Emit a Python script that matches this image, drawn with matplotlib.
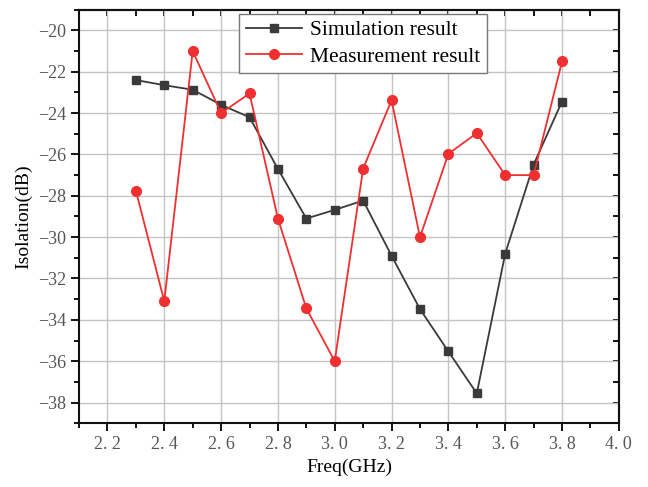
import matplotlib
matplotlib.use("Agg")
import matplotlib.pyplot as plt
from matplotlib.ticker import MultipleLocator, FuncFormatter

freq = [2.3, 2.4, 2.5, 2.6, 2.7, 2.8, 2.9, 3.0, 3.1, 3.2, 3.3, 3.4, 3.5, 3.6, 3.7, 3.8]
simulation = [-22.4, -22.65, -22.87, -23.6, -24.2, -26.7, -29.1, -28.68, -28.23,
              -30.9, -33.48, -35.53, -37.56, -30.8, -26.49, -23.44]
measurement = [-27.75, -33.1, -21.0, -24.0, -23.05, -29.1, -33.45, -36.0, -26.68,
               -23.38, -30.0, -25.97, -24.97, -27.0, -27.0, -21.5]

plt.rcParams['font.family'] = ['Liberation Serif', 'DejaVu Serif']

fig = plt.figure(figsize=(6.48, 4.87), dpi=100)
ax = fig.add_axes([0.122, 0.131, 0.833, 0.849])

ax.plot(freq, simulation, color='#3a3a3a', lw=1.3, marker='s', markersize=6,
        label='Simulation result', zorder=3)
ax.plot(freq, measurement, color='#f03030', lw=1.3, marker='o', markersize=7,
        label='Measurement result', zorder=4)

ax.set_xlim(2.1, 4.0)
ax.set_ylim(-39, -19)
ax.xaxis.set_major_locator(MultipleLocator(0.2))
ax.xaxis.set_minor_locator(MultipleLocator(0.1))
ax.yaxis.set_major_locator(MultipleLocator(2))
ax.yaxis.set_minor_locator(MultipleLocator(1))
ax.xaxis.set_major_formatter(FuncFormatter(lambda v, p: ("%.1f" % v).replace('.', '. ')))
ax.yaxis.set_major_formatter(FuncFormatter(lambda v, p: ("%d" % round(v)).replace('-', '\u2212')))

ax.grid(True, which='major', color='#c4c4c4', lw=1.0, zorder=0)
ax.tick_params(which='major', direction='out', length=6, width=1.3, labelsize=13,
               labelcolor='#555555', top=False, right=False)
ax.tick_params(which='minor', direction='out', length=3.5, width=1.3, top=False, right=False)
for s in ax.spines.values():
    s.set_linewidth(1.5)
    s.set_color('#111111')

secx = ax.secondary_xaxis('top')
secx.xaxis.set_major_locator(MultipleLocator(0.1))
secx.tick_params(direction='in', length=4, width=1.3, labeltop=False)
secx.spines['top'].set_linewidth(1.5)
secy = ax.secondary_yaxis('right')
secy.yaxis.set_major_locator(MultipleLocator(1))
secy.tick_params(direction='in', length=4, width=1.3, labelright=False)
secy.spines['right'].set_linewidth(1.5)

ax.set_xlabel('Freq(GHz)', fontsize=14, labelpad=4)
ax.set_ylabel('Isolation(dB)', fontsize=14, labelpad=4)

leg = ax.legend(loc='upper center', bbox_to_anchor=(0.526, 0.99), fontsize=15.5,
                frameon=True, fancybox=False, edgecolor='#777777', framealpha=1,
                handlelength=2.6, borderpad=0.3, labelspacing=0.3, handletextpad=0.4,
                borderaxespad=0)
leg.get_frame().set_linewidth(1.0)

fig.savefig('out.png', dpi=100)
